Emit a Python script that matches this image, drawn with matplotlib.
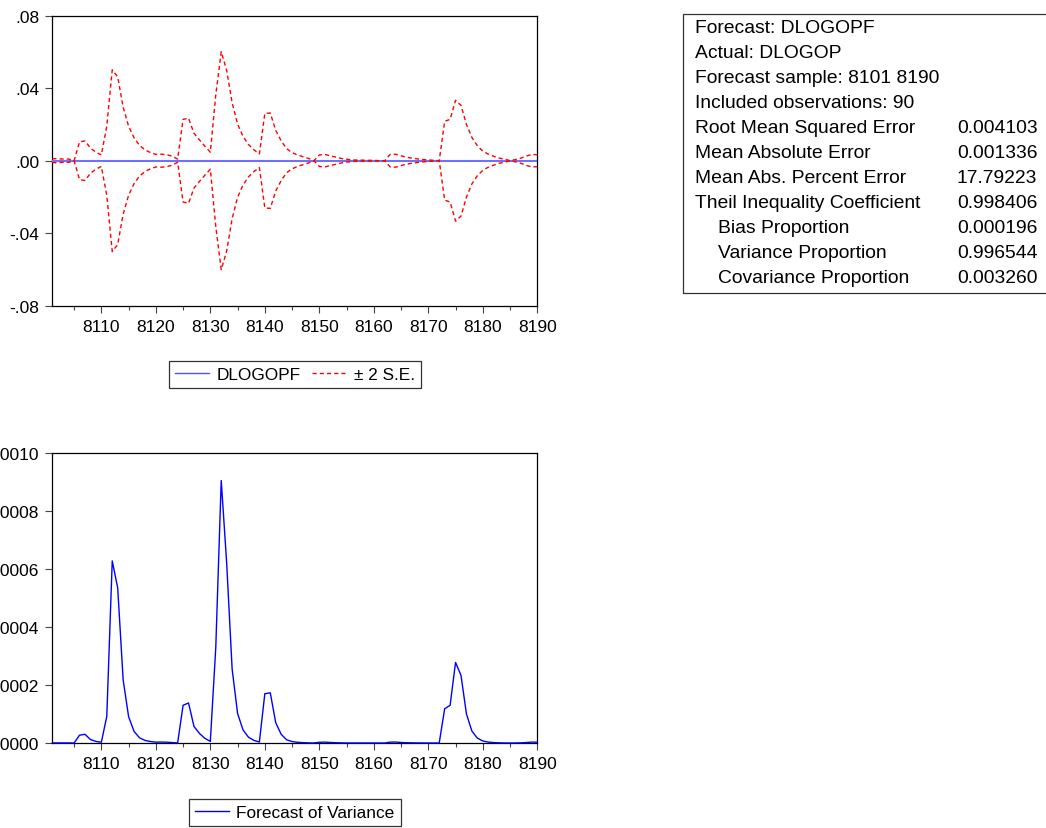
import numpy as np
import matplotlib
matplotlib.use("Agg")
import matplotlib.pyplot as plt
from matplotlib.lines import Line2D
from matplotlib.patches import Rectangle
from matplotlib.ticker import FuncFormatter, MultipleLocator

plt.rcParams['font.family'] = ['Liberation Sans', 'DejaVu Sans']

# observations 8101 .. 8190
obs = np.arange(8101, 8191)

# forecast of DLOGOP (flat at zero over the sample)
dlogopf = [0.0] * 90

# forecast of variance
fvar = [
    3e-7, 3e-7, 2e-7, 2e-7, 0.0,                       # 8101-8105
    2.7e-5, 3.0e-5, 1.2e-5, 5.5e-6, 2.5e-6,            # 8106-8110
    9.2e-5, 6.28e-4, 5.35e-4, 2.18e-4, 9.1e-5,         # 8111-8115
    4.0e-5, 1.8e-5, 9e-6, 5e-6, 3e-6,                  # 8116-8120
    3.2e-6, 2.8e-6, 1.5e-6, 2e-7, 1.30e-4,             # 8121-8125
    1.38e-4, 5.7e-5, 3.3e-5, 1.6e-5, 5.5e-6,           # 8126-8130
    3.3e-4, 9.05e-4, 6.2e-4, 2.55e-4, 1.02e-4,         # 8131-8135
    4.5e-5, 2.0e-5, 9e-6, 3.5e-6, 1.70e-4,             # 8136-8140
    1.73e-4, 7.0e-5, 3.0e-5, 1.1e-5, 5e-6,             # 8141-8145
    2.5e-6, 1.2e-6, 4e-7, 0.0, 2.5e-6,                 # 8146-8150
    3e-6, 1.8e-6, 1e-6, 4e-7, 1.5e-7,                  # 8151-8155
    5e-8, 3e-8, 2e-8, 1e-8, 1e-8,                      # 8156-8160
    0.0, 0.0, 3e-6, 3.2e-6, 1.8e-6,                    # 8161-8165
    9e-7, 5e-7, 2.5e-7, 1e-7, 5e-8,                    # 8166-8170
    1e-8, 0.0, 1.18e-4, 1.30e-4, 2.78e-4,              # 8171-8175
    2.33e-4, 1.0e-4, 4.1e-5, 1.7e-5, 7e-6,             # 8176-8180
    3.2e-6, 1.5e-6, 5e-7, 2e-7, 0.0,                   # 8181-8185
    1e-7, 5e-7, 1.7e-6, 3e-6, 2.7e-6,                  # 8186-8190
]

stat_labels = [
    "Forecast: DLOGOPF", "Actual: DLOGOP", "Forecast sample: 8101 8190",
    "Included observations: 90", "Root Mean Squared Error",
    "Mean Absolute Error", "Mean Abs. Percent Error",
    "Theil Inequality Coefficient", "Bias Proportion",
    "Variance Proportion", "Covariance Proportion",
]
stat_values = ["", "", "", "", "0.004103", "0.001336", "17.79223",
               "0.998406", "0.000196", "0.996544", "0.003260"]
stat_indent = [False] * 8 + [True] * 3

f = np.array(dlogopf)
se2 = 2 * np.sqrt(np.array(fvar))

W, H = 1046, 829
fig = plt.figure(figsize=(W / 100, H / 100), dpi=100)
ax1 = fig.add_axes([52.3 / W, 1 - 306.7 / H, 485 / W, 290 / H])
ax2 = fig.add_axes([52.3 / W, 1 - 744 / H, 485 / W, 290 / H])

dash = (3.0, 2.2)
ax1.plot(obs, f, color='#7070ff', lw=1.5, zorder=3)
ax1.plot(obs, f + se2, color='red', lw=1.0, dashes=dash, zorder=4)
ax1.plot(obs, f - se2, color='red', lw=1.0, dashes=dash, zorder=4)
ax1.set_ylim(-0.08, 0.08)
ax1.yaxis.set_major_locator(MultipleLocator(0.04))
ax1.yaxis.set_major_formatter(FuncFormatter(lambda v, p: f"{v:.2f}".replace("0.", ".", 1)))

ax2.plot(obs, fvar, color='#0000ff', lw=1.0, zorder=3, clip_on=False)
ax2.set_ylim(0, 0.001)
ax2.yaxis.set_major_locator(MultipleLocator(0.0002))
ax2.yaxis.set_major_formatter(FuncFormatter(lambda v, p: f"{v:.4f}".replace("0.", ".", 1)))

for ax in (ax1, ax2):
    ax.set_xlim(8101, 8190)
    ax.set_xticks(np.arange(8110, 8191, 10))
    ax.set_xticks(np.arange(8105, 8190, 10), minor=True)
    ax.tick_params(which='major', direction='out', length=5, width=0.8,
                   color='#444444', labelsize=12.5, pad=4.5)
    ax.tick_params(which='minor', direction='out', length=3, width=0.8,
                   color='#444444')
    for s in ax.spines.values():
        s.set_linewidth(0.9)
        s.set_color('black')

leg_kw = dict(loc='upper center', frameon=True, fancybox=False, fontsize=12.4,
              handlelength=2.0, handletextpad=0.4, borderpad=0.35,
              borderaxespad=0, columnspacing=0.7, framealpha=1)
h1 = [Line2D([], [], color='#5050ff', lw=1.0),
      Line2D([], [], color='red', lw=1.0, dashes=dash)]
lg1 = ax1.legend(h1, ["DLOGOPF", "\u00b1 2 S.E."], ncol=2,
                 bbox_to_anchor=(0.5, -0.19), **leg_kw)
lg1.get_frame().set_edgecolor('#333333')
lg1.get_frame().set_linewidth(0.9)

h2 = [Line2D([], [], color='#0000ff', lw=1.0)]
lg2 = ax2.legend(h2, ["Forecast of Variance"], bbox_to_anchor=(0.5, -0.193), **leg_kw)
lg2.get_frame().set_edgecolor('#333333')
lg2.get_frame().set_linewidth(0.9)

# forecast evaluation box
fig.add_artist(Rectangle((683 / W, 1 - 294 / H), 0.5, 279 / H,
                         transform=fig.transFigure, fill=False,
                         lw=0.9, ec='#333333'))
for i, (lab, val, ind) in enumerate(zip(stat_labels, stat_values, stat_indent)):
    yb = 1 - (32.7 + 25 * i) / H
    x0 = 718 / W if ind else 695 / W
    fig.text(x0, yb, lab, fontsize=13.9, va='baseline', ha='left')
    if val:
        fig.text(957 / W, yb, val, fontsize=13.9, va='baseline', ha='left')

fig.savefig("out.png", dpi=100)
